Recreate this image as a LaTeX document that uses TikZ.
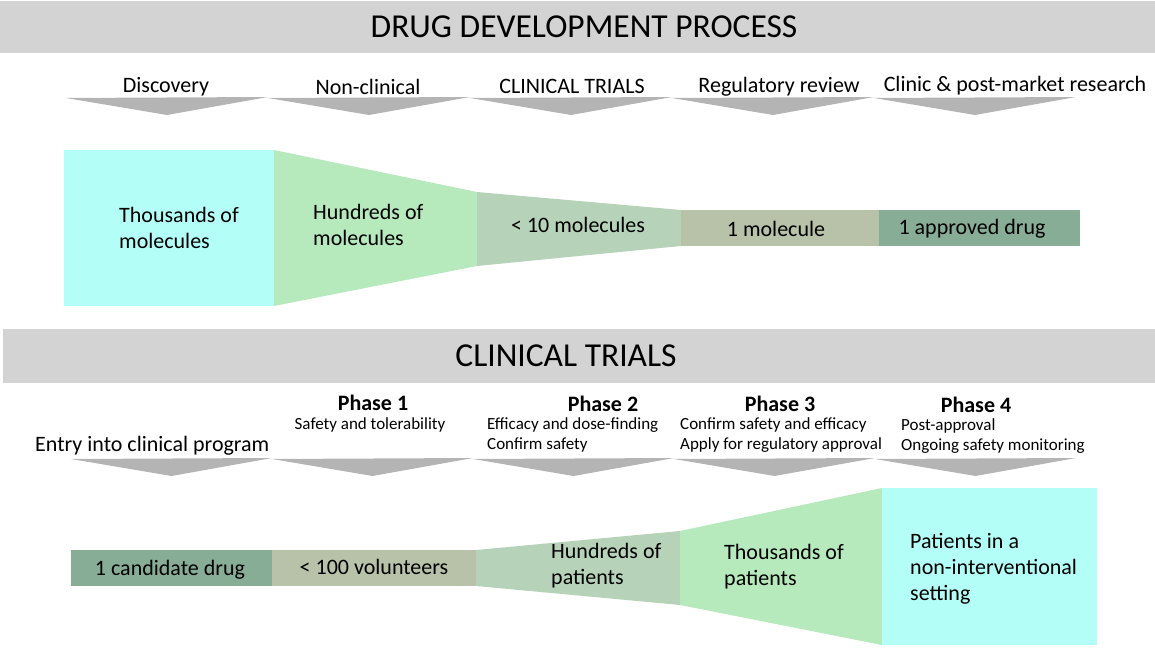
\documentclass[tikz,border=0pt]{standalone}
\usepackage{fontspec}
\setmainfont{Carlito}
\definecolor{bannergray}{HTML}{D3D3D3}
\definecolor{chevgray}{HTML}{B4B4B4}
\definecolor{cyanbox}{HTML}{B3FEF6}
\definecolor{lgreen}{HTML}{B6EABD}
\definecolor{sage}{HTML}{B6D3B9}
\definecolor{khaki}{HTML}{B8C2A8}
\definecolor{dgreen}{HTML}{88AD97}
\tikzset{
  titletext/.style={font=\fontsize{33.5}{40}\selectfont, inner sep=0pt},
  labeltext/.style={font=\fontsize{22}{26}\selectfont, inner sep=0pt},
  boxtext/.style={font=\fontsize{22}{26}\selectfont, inner sep=0pt, align=left},
  phasetext/.style={font=\bfseries\fontsize{22}{26}\selectfont, inner sep=0pt},
  subtext/.style={font=\fontsize{17}{20}\selectfont, inner sep=0pt, align=left},
  chevron/.style={fill=chevgray},
}
\begin{document}
\begin{tikzpicture}[x=1pt,y=-1pt]
\useasboundingbox (0,0) rectangle (1155,650);
% banners
\fill[bannergray] (0,1) rectangle (1155,53);
\fill[bannergray] (3,329) rectangle (1155,383);
\node[titletext] (title1) at (584,27) {DRUG DEVELOPMENT PROCESS};
\node[titletext] (title2) at (566,356) {CLINICAL TRIALS};
% top chevrons
\foreach \i in {0,...,4}{
  \pgfmathsetmacro{\xa}{66+202*\i}
  \pgfmathsetmacro{\xb}{66+202*(\i+1)}
  \pgfmathsetmacro{\xm}{66+202*\i+101}
  \fill[chevron] (\xa,98) -- (\xb,97) -- (\xm,115) -- cycle;
}
\node[labeltext] (lab1) at (166,87) {Discovery};
\node[labeltext] (lab2) at (368,87) {Non-clinical};
\node[labeltext] (lab3) at (572,86) {CLINICAL TRIALS};
\node[labeltext] (lab4) at (779,87) {Regulatory review};
\node[labeltext] (lab5) at (1015,86) {Clinic \& post-market research};
% top funnel
\fill[cyanbox] (64,150) rectangle (274,306);
\fill[lgreen] (274,150) -- (477,192) -- (477,266) -- (274,306) -- cycle;
\fill[sage] (477,192) -- (681,210) -- (681,246) -- (477,266) -- cycle;
\fill[khaki] (681,210) rectangle (879,246);
\fill[dgreen] (879,210) rectangle (1080,246);
\node[boxtext, anchor=west] (t1) at (119,228) {Thousands of\\molecules};
\node[boxtext, anchor=west] (t2) at (313,225) {Hundreds of\\molecules};
\node[labeltext] (t3) at (578,225) {< 10 molecules};
\node[labeltext] (t4) at (776,229) {1 molecule};
\node[labeltext] (t5) at (972,229) {1 approved drug};
% bottom chevrons
\foreach \i in {0,...,4}{
  \pgfmathsetmacro{\xa}{71+201*\i}
  \pgfmathsetmacro{\xb}{71+201*(\i+1)}
  \pgfmathsetmacro{\xm}{71+201*\i+100.5}
  \fill[chevron] (\xa,459) -- (\xb,458) -- (\xm,476) -- cycle;
}
\node[labeltext, anchor=west] (entry) at (35,446) {Entry into clinical program};
\node[phasetext] (p1) at (373,403) {Phase 1};
\node[subtext] (p1s) at (370,425) {Safety and tolerability};
\node[phasetext] (p2) at (603,404) {Phase 2};
\node[subtext, anchor=west] (p2s) at (487,435) {Efficacy and dose-finding\\Confirm safety};
\node[phasetext] (p3) at (780,404) {Phase 3};
\node[subtext, anchor=west] (p3s) at (680,435) {Confirm safety and efficacy\\Apply for regulatory approval};
\node[phasetext] (p4) at (976,405) {Phase 4};
\node[subtext, anchor=west] (p4s) at (901,436) {Post-approval\\Ongoing safety monitoring};
% bottom funnel
\fill[dgreen] (71,550) rectangle (272,586);
\fill[khaki] (272,550) rectangle (476,586);
\fill[sage] (476,550) -- (680,531) -- (680,605) -- (476,586) -- cycle;
\fill[lgreen] (680,531) -- (882,488) -- (882,645) -- (680,605) -- cycle;
\fill[cyanbox] (882,488) rectangle (1097,645);
\node[labeltext] (b1) at (170,570) {1 candidate drug};
\node[labeltext] (b2) at (374,567) {< 100 volunteers};
\node[boxtext, anchor=west] (b3) at (551,566) {Hundreds of\\patients};
\node[boxtext, anchor=west] (b4) at (724,567) {Thousands of\\patients};
\node[boxtext, anchor=west] (b5) at (910,569) {Patients in a\\non-interventional\\setting};
\end{tikzpicture}
\end{document}
